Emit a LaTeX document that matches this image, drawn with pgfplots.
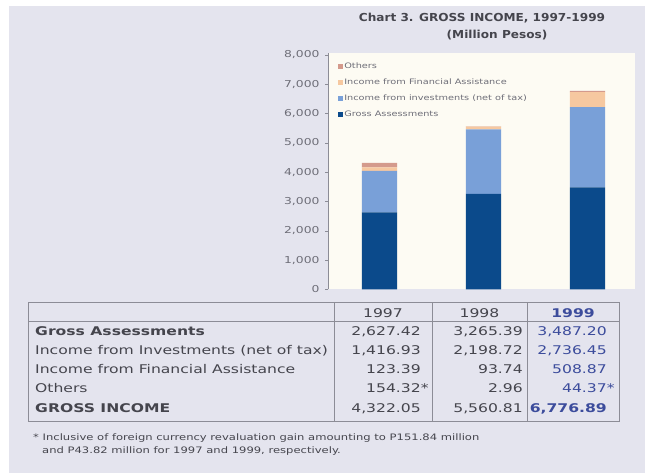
\documentclass[border=0pt]{standalone}
\usepackage{fontspec}
\usepackage{pgfplots}
\pgfplotsset{compat=1.18}
\newfontfamily\wf{DejaVu Sans}[FakeStretch=1.3]
\newfontfamily\tf{DejaVu Sans}[FakeStretch=1.1]
\definecolor{bg}{HTML}{E4E4EE}
\definecolor{cream}{HTML}{FDFBF3}
\definecolor{ga}{HTML}{0B4A8B}
\definecolor{inv}{HTML}{79A0D8}
\definecolor{fa}{HTML}{F6C8A0}
\definecolor{oth}{HTML}{D49A8C}
\definecolor{txt}{HTML}{45454D}
\definecolor{blu}{HTML}{3C4C9C}
\definecolor{lin}{HTML}{8C8C96}
\definecolor{tick}{HTML}{6E6E78}
\begin{document}
\begin{tikzpicture}
\fill[white] (0pt,0pt) rectangle (645pt,473pt);
\fill[bg] (9pt,0pt) rectangle (645pt,467pt);
\begin{axis}[
  at={(328pt,183.5pt)}, anchor=south west,
  scale only axis, width=307pt, height=236.5pt,
  xmin=-0.495, xmax=2.457, ymin=0, ymax=8068,
  ybar stacked, bar width=0.337,
  axis background/.style={fill=cream},
  axis x line=none, axis y line*=left,
  y axis line style={draw=lin, line width=0.6pt},
  xtick=\empty,
  ytick={0,1000,...,8000},
  tick align=outside, major tick length=3pt,
  ytick style={draw=lin, line width=0.6pt},
  yticklabel style={font=\wf\fontsize{9.5pt}{10pt}\selectfont, text=tick, xshift=-2pt},
  /pgf/number format/.cd, 1000 sep={,}, assume math mode=true, /pgfplots/.cd,
  reverse legend,
  legend cell align=left,
  legend image code/.code={\fill[#1] (0pt,-2.5pt) rectangle (5pt,2.5pt);},
  legend style={at={(0.023,0.972)}, anchor=north west, draw=none, fill=none,
    row sep=7pt, nodes={inner sep=1pt, text=tick, font=\wf\fontsize{7.5pt}{8pt}\selectfont}},
]
\addplot[fill=ga, draw=none] coordinates {(0,2627.42) (1,3265.39) (2,3487.20)};
\addlegendentry{Gross Assessments}
\addplot[fill=inv, draw=none] coordinates {(0,1416.93) (1,2198.72) (2,2736.45)};
\addlegendentry{Income from investments (net of tax)}
\addplot[fill=fa, draw=none] coordinates {(0,123.39) (1,93.74) (2,508.87)};
\addlegendentry{Income from Financial Assistance}
\addplot[fill=oth, draw=none] coordinates {(0,154.32) (1,2.96) (2,44.37)};
\addlegendentry{Others}
\end{axis}
% title
\node[font=\tf\bfseries\fontsize{11pt}{12pt}\selectfont, text=txt] at (482pt,455pt) {Chart 3. GROSS INCOME, 1997-1999};
\node[font=\tf\bfseries\fontsize{11pt}{12pt}\selectfont, text=txt] at (497pt,438pt) {(Million Pesos)};
% table
\draw[lin, line width=1pt] (28pt,51pt) rectangle (619pt,170pt);
\draw[lin, line width=1pt] (28pt,151pt) -- (619pt,151pt);
\foreach \x in {334,432,527} \draw[lin, line width=1pt] (\x pt,51pt) -- (\x pt,170pt);
\begin{scope}[every node/.style={inner sep=0pt, font=\wf\fontsize{12pt}{14pt}\selectfont, text=txt}]
\node at (383pt,160pt) {1997};
\node at (479.5pt,160pt) {1998};
\node[text=blu, font=\wf\bfseries\fontsize{12pt}{14pt}\selectfont] at (573pt,160pt) {1999};
\node[anchor=mid west, font=\wf\bfseries\fontsize{12pt}{14pt}\selectfont] at (35pt,140pt) {Gross Assessments};
\node[anchor=mid west] at (35pt,121pt) {Income from Investments (net of tax)};
\node[anchor=mid west] at (35pt,102pt) {Income from Financial Assistance};
\node[anchor=mid west] at (35pt,83pt) {Others};
\node[anchor=mid west, font=\wf\bfseries\fontsize{12pt}{14pt}\selectfont] at (35pt,63pt) {GROSS INCOME};
\node[anchor=mid east] at (421pt,140pt) {2,627.42};
\node[anchor=mid east] at (421pt,121pt) {1,416.93};
\node[anchor=mid east] at (421pt,102pt) {123.39};
\node[anchor=mid east] at (421pt,83pt) {154.32\rlap{*}};
\node[anchor=mid east] at (421pt,63pt) {4,322.05};
\node[anchor=mid east] at (523pt,140pt) {3,265.39};
\node[anchor=mid east] at (523pt,121pt) {2,198.72};
\node[anchor=mid east] at (523pt,102pt) {93.74};
\node[anchor=mid east] at (523pt,83pt) {2.96};
\node[anchor=mid east] at (523pt,63pt) {5,560.81};
\node[anchor=mid east, text=blu] at (607pt,140pt) {3,487.20};
\node[anchor=mid east, text=blu] at (607pt,121pt) {2,736.45};
\node[anchor=mid east, text=blu] at (607pt,102pt) {508.87};
\node[anchor=mid east, text=blu] at (607pt,83pt) {44.37\rlap{*}};
\node[anchor=mid east, text=blu, font=\wf\bfseries\fontsize{12pt}{14pt}\selectfont] at (607pt,63pt) {6,776.89};
\end{scope}
% footnote
\begin{scope}[every node/.style={inner sep=0pt, anchor=mid west, font=\wf\fontsize{8.9pt}{10pt}\selectfont, text=txt}]
\node at (33pt,35pt) {* Inclusive of foreign currency revaluation gain amounting to P151.84 million};
\node at (42pt,22pt) {and P43.82 million for 1997 and 1999, respectively.};
\end{scope}
\end{tikzpicture}
\end{document}
